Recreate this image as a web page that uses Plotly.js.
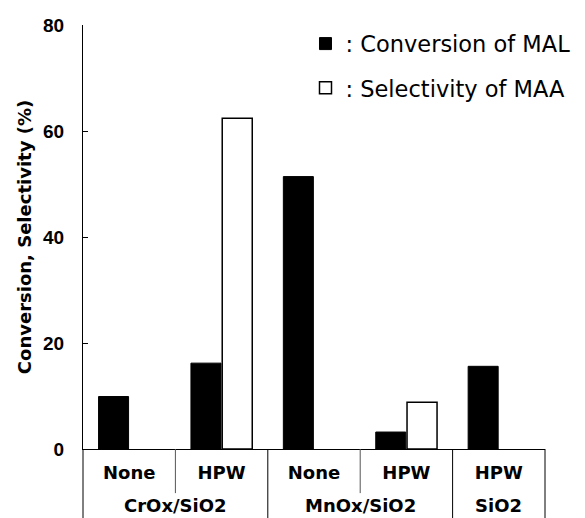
<!DOCTYPE html>
<html>
<head>
<meta charset="utf-8">
<script src="https://cdn.plot.ly/plotly-3.0.1.min.js"></script>
<style>
  html, body { margin: 0; padding: 0; background: #ffffff; }
  #chart { width: 585px; height: 518px; }
</style>
</head>
<body>
<div id="chart"></div>
<script>
// ---- Data ----
const groups = ['CrOx/SiO2', 'CrOx/SiO2', 'MnOx/SiO2', 'MnOx/SiO2', 'SiO2'];
const additives = ['None', 'HPW', 'None', 'HPW', 'HPW'];
const conversionMAL = [9.9, 16.2, 51.4, 3.2, 15.6];
const selectivityMAA = [null, 62.4, null, 8.8, null];
const seriesNames = [': Conversion of MAL', ': Selectivity of MAA'];
const yTicks = [0, 20, 40, 60, 80];
const yTitle = 'Conversion, Selectivity (%)';

// ---- Derived helpers ----
const categories = groups.map((g, i) => g + ' | ' + additives[i]);

const groupInfo = [];
groups.forEach((g, i) => {
  const last = groupInfo[groupInfo.length - 1];
  if (last && last.name === g) { last.end = i; }
  else { groupInfo.push({ name: g, start: i, end: i }); }
});
const groupBoundaries = groupInfo.slice(1).map(gi => gi.start - 0.5);
const subBoundaries = [];
for (let i = 1; i < groups.length; i++) {
  if (groups[i] === groups[i - 1]) subBoundaries.push(i - 0.5);
}

const labelBold = { family: 'DejaVu Sans', size: 18, color: '#000', weight: 'bold' };

const traces = [
  {
    type: 'bar', x: categories, y: conversionMAL, name: seriesNames[0],
    legendgroup: 'a',
    marker: { color: '#000000', line: { color: '#000000', width: 1 } },
    hoverinfo: 'skip'
  },
  {
    type: 'bar', x: categories, y: selectivityMAA, name: seriesNames[1],
    legendgroup: 'b',
    marker: { color: '#ffffff', line: { color: '#000000', width: 1.5 } },
    hoverinfo: 'skip'
  }
];

const shapes = [];
groupBoundaries.forEach(b => shapes.push({
  type: 'line', xref: 'x', yref: 'paper', x0: b, x1: b, y0: 0, y1: -0.2,
  line: { color: '#000', width: 1 }
}));
subBoundaries.forEach(b => shapes.push({
  type: 'line', xref: 'x', yref: 'paper', x0: b, x1: b, y0: 0, y1: -0.104,
  line: { color: '#555', width: 1 }
}));
[0, 1].forEach(p => shapes.push({
  type: 'line', xref: 'paper', yref: 'paper', x0: p, x1: p, y0: 0, y1: -0.2,
  line: { color: '#000', width: 1 }
}));

const annotations = groupInfo.map(gi => ({
  xref: 'x', yref: 'paper', x: (gi.start + gi.end) / 2, y: -0.134,
  text: gi.name, showarrow: false, xanchor: 'center', yanchor: 'middle',
  font: labelBold
}));

const layout = {
  width: 585, height: 518,
  margin: { l: 83, r: 40, t: 25, b: 69, autoexpand: false },
  paper_bgcolor: '#ffffff', plot_bgcolor: '#ffffff',
  barmode: 'group', bargap: 0.323, bargroupgap: 0.04,
  showlegend: true,
  legend: {
    xref: 'paper', yref: 'paper',
    x: 0.4816, y: 1.006, xanchor: 'left', yanchor: 'top',
    bgcolor: 'rgba(0,0,0,0)', borderwidth: 0,
    tracegroupgap: 12, traceorder: 'grouped',
    font: { family: 'DejaVu Sans', size: 22.5, color: '#000' }
  },
  xaxis: {
    type: 'category', range: [-0.5, groups.length - 0.5],
    tickvals: categories, ticktext: additives, tickangle: 0,
    ticks: '', showline: true, linecolor: '#000', linewidth: 1,
    showgrid: false, zeroline: false, fixedrange: true, automargin: false,
    tickfont: labelBold, ticklabelstandoff: 7
  },
  yaxis: {
    range: [0, 80], tickvals: yTicks, ticks: 'inside', ticklen: 5,
    tickwidth: 1, tickcolor: '#000',
    showline: true, linecolor: '#000', linewidth: 1,
    showgrid: false, zeroline: false, fixedrange: true, automargin: false,
    tickfont: { family: 'Liberation Sans', size: 19, color: '#000', weight: 'bold' },
    ticklabelstandoff: 14,
    title: { text: yTitle, standoff: 6,
      font: { family: 'DejaVu Sans', size: 18, color: '#000', weight: 'bold' } }
  },
  shapes: shapes,
  annotations: annotations
};

Plotly.newPlot('chart', traces, layout, { displayModeBar: false, staticPlot: true });
</script>
</body>
</html>
